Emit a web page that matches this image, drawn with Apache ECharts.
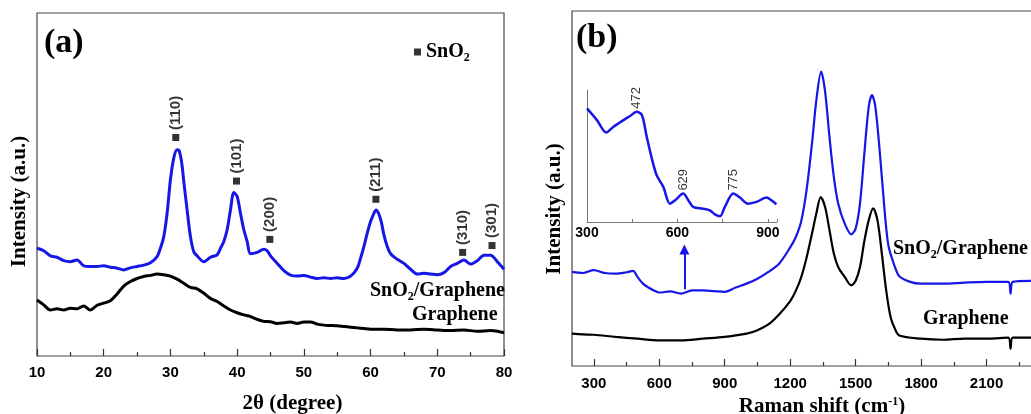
<!DOCTYPE html>
<html>
<head>
<meta charset="utf-8">
<script src="https://cdn.jsdelivr.net/npm/echarts@6/dist/echarts.min.js"></script>
<style>
  html, body { margin: 0; padding: 0; background: #fff; }
  #chart { width: 1031px; height: 414px; }
</style>
</head>
<body>
<div id="chart"></div>
<script>
// (a) XRD, 2theta (degree) vs intensity (a.u.)
const xrdSnO2Graphene = [
    [10, 31.4], [11, 30.7], [12, 29.2], [13, 28.8], [14, 27.8], [15, 27.5], [16, 28.0], [17, 26.3],
    [18, 26.1], [19, 26.1], [20, 26.3], [21, 25.9], [22, 25.6], [23, 25.1], [24, 25.7], [25, 26.1],
    [26, 26.5], [27, 27.2], [28, 29.0], [28.5, 31.4], [29, 34.8], [29.5, 41.6], [30, 51.4], [30.5, 57.7],
    [31, 60.1], [31.3, 59.9], [31.7, 56.2], [32, 50.9], [32.5, 42.6], [33, 34.8], [33.5, 30.4], [34, 29.2],
    [35, 27.5], [36, 28.8], [37, 29.5], [37.5, 31.4], [38, 33.4], [38.5, 36.8], [39, 42.6], [39.5, 47.7],
    [40, 46.5], [40.5, 41.6], [41, 36.8], [41.5, 33.4], [42, 29.8], [43, 30.2], [44, 31.1], [44.5, 30.7],
    [45, 29.2], [46, 27.0], [47, 24.9], [48, 23.6], [49, 23.3], [50, 23.5], [51, 23.0], [52, 22.6],
    [53, 22.8], [54, 22.6], [55, 22.8], [56, 22.6], [57, 23.3], [58, 25.6], [58.5, 28.5], [59, 31.9],
    [59.5, 35.8], [60, 39.2], [60.5, 41.6], [60.8, 42.6], [61.2, 41.6], [61.6, 39.2], [62, 35.3], [62.5, 31.9],
    [63, 29.8], [64, 28.2], [65, 27.0], [66, 25.3], [67, 23.9], [68, 24.1], [69, 23.9], [70, 23.7],
    [71, 24.3], [72, 26.1], [73, 27.0], [74, 28.0], [75, 26.8], [76, 27.8], [77, 29.4], [78, 29.4],
    [79, 27.5], [80, 25.3]
];
const xrdGraphene = [
    [10, 16.3], [11, 14.9], [12, 13.4], [13, 13.8], [14, 13.4], [15, 13.9], [16, 13.8], [17, 14.6],
    [18, 13.4], [19, 14.8], [20, 15.4], [21, 16.1], [22, 18.1], [23, 20.4], [24, 21.7], [25, 22.6],
    [26, 23.2], [27, 23.5], [28, 23.9], [29, 23.7], [30, 23.3], [31, 22.4], [32, 21.2], [33, 20.0],
    [34, 19.6], [35, 18.3], [36, 16.8], [37, 15.9], [38, 14.6], [39, 13.4], [40, 12.6], [41, 12.0],
    [42, 11.5], [43, 10.7], [44, 10.1], [45, 10.0], [46, 9.5], [47, 9.7], [48, 9.9], [49, 9.5],
    [50, 9.9], [51, 9.9], [52, 9.3], [53, 9.0], [54, 8.9], [55, 8.8], [56, 8.6], [57, 8.4],
    [58, 8.2], [59, 8.0], [60, 7.8], [62, 7.8], [64, 7.6], [66, 7.6], [68, 7.8], [70, 7.6],
    [72, 7.4], [74, 7.6], [76, 7.2], [78, 7.4], [80, 6.8]
];
// SnO2 reflections: marker position and (hkl)
const peakAngle = [30.8, 39.9, 44.9, 60.8, 73.8, 78.2];
const peakMarkY = [63.7, 51.0, 34.0, 45.7, 30.2, 32.2];
const peakHkl = ['(110)', '(101)', '(200)', '(211)', '(310)', '(301)'];

// (b) Raman, shift (cm-1) vs intensity (a.u.)
const ramanSnO2Graphene = [
    [200, 26.5], [250, 26.2], [300, 27.0], [350, 26.2], [400, 26.0], [450, 26.4], [480, 26.8], [500, 25.1],
    [525, 23.2], [550, 22.1], [575, 21.3], [600, 20.7], [650, 21.0], [700, 20.4], [750, 21.3], [800, 21.3],
    [850, 21.1], [900, 20.9], [950, 22.1], [1000, 23.2], [1050, 24.6], [1100, 26.5], [1150, 28.9], [1200, 33.4],
    [1225, 36.2], [1250, 40.6], [1275, 49.5], [1300, 62.7], [1320, 74.9], [1342, 82.9], [1360, 77.3], [1380, 64.6],
    [1400, 53.3], [1420, 45.8], [1450, 40.1], [1480, 37.1], [1500, 38.7], [1520, 45.8], [1540, 59.9], [1560, 73.0],
    [1575, 76.3], [1590, 73.2], [1610, 60.8], [1630, 45.8], [1650, 34.0], [1680, 27.9], [1700, 25.3], [1750, 23.7],
    [1800, 23.2], [1900, 23.2], [2000, 23.5], [2100, 23.7], [2200, 23.7], [2210, 20.4], [2220, 23.7], [2300, 24.0],
    [2400, 24.0]
];
const ramanGraphene = [
    [200, 9.1], [250, 8.9], [300, 8.8], [400, 8.2], [500, 7.7], [600, 7.2], [700, 7.2], [800, 7.7],
    [900, 8.2], [1000, 9.1], [1050, 10.1], [1100, 11.7], [1150, 14.6], [1200, 18.3], [1225, 21.1], [1250, 24.9],
    [1275, 30.5], [1300, 37.3], [1320, 43.0], [1340, 47.6], [1360, 44.8], [1380, 38.3], [1400, 31.7], [1420, 27.9],
    [1450, 25.1], [1480, 22.7], [1500, 24.0], [1520, 27.9], [1540, 35.2], [1560, 41.1], [1580, 44.4], [1600, 41.1],
    [1620, 31.7], [1640, 21.3], [1660, 13.8], [1680, 10.5], [1700, 8.6], [1800, 7.7], [1900, 7.4], [2000, 7.7],
    [2100, 7.7], [2200, 8.0], [2210, 4.9], [2220, 8.0], [2300, 8.0], [2400, 8.0]
];
const ramanTicks = [300, 600, 900, 1200, 1500, 1800, 2100, 2400];
const ramanMinorTicks = [450, 750, 1050, 1350, 1650, 1950, 2250];

// inset: SnO2/Graphene 300-930 cm-1
const insetSnO2Graphene = [
    [300, 86.1], [333, 77.2], [364, 67.8], [388, 72.2], [421, 77.2], [443, 80.3], [465, 83.5], [482, 81.0],
    [498, 64.6], [515, 48.1], [531, 35.4], [553, 26.6], [575, 13.9], [592, 16.5], [619, 21.5], [636, 16.5],
    [652, 11.4], [685, 10.1], [707, 8.9], [724, 5.8], [741, 4.3], [757, 11.4], [785, 21.5], [807, 18.5],
    [834, 13.9], [862, 15.2], [895, 18.5], [911, 16.5], [928, 13.4]
];
const insetPeakShift = [465, 619, 785];
const insetPeakY = [83.5, 21.5, 21.5];
const insetPeakText = ['472', '629', '775'];
// arrow from the main curve up to the inset
const arrowShift = 715;
const arrowFromTo = [21.6, 32.8];

const BLUE = '#1616e6';
const SERIF = '"Liberation Serif", "DejaVu Serif", serif';
const SANS = '"Liberation Sans", Arial, sans-serif';

function richColor(color) {
    return {
        n: { fontFamily: SERIF, fontWeight: 'bold', fontSize: 20, lineHeight: 24, color: color },
        s: { fontFamily: SERIF, fontWeight: 'bold', fontSize: 12, lineHeight: 12, verticalAlign: 'bottom', color: color }
    };
}

function nameStyle(padding) {
    return {
        color: '#000', fontFamily: SERIF, fontWeight: 'bold', fontSize: 21, padding: padding,
        rich: {
            sup: { fontFamily: SERIF, fontWeight: 'bold', fontSize: 12, lineHeight: 12, verticalAlign: 'top', padding: [0, 0, 4, 0] }
        }
    };
}
const tickStyle = { color: '#333', width: 1.2 };
const labelStyle = { color: '#000', fontFamily: SANS, fontWeight: 'bold', fontSize: 15 };

let myChart = echarts.init(document.getElementById('chart'), null, { renderer: 'canvas' });

let option = {
    backgroundColor: '#fff',
    animation: false,
    grid: [
        { left: 37, top: 13, width: 467, height: 343, show: true, borderColor: '#444', borderWidth: 1.2, backgroundColor: 'transparent', outerBoundsMode: 'none' },
        { left: 572, top: 11, width: 480, height: 355, show: true, borderColor: '#444', borderWidth: 1.2, backgroundColor: 'transparent', outerBoundsMode: 'none' },
        { left: 587, top: 90, width: 190, height: 132, outerBoundsMode: 'none' }
    ],
    xAxis: [
        {
            type: 'value', gridIndex: 0, min: 10, max: 80, interval: 10,
            axisLine: { show: false },
            axisTick: { show: true, inside: true, length: 7, lineStyle: tickStyle },
            minorTick: { show: true, splitNumber: 2, length: 4, lineStyle: tickStyle },
            axisLabel: Object.assign({ margin: 9 }, labelStyle),
            splitLine: { show: false },
            name: '2θ (degree)', nameLocation: 'middle', nameGap: 37,
            nameTextStyle: nameStyle([0, 0, 0, 44])
        },
        {
            type: 'value', gridIndex: 1, min: 200, max: 2400,
            axisLine: { show: false },
            axisTick: { show: true, inside: true, length: 7, lineStyle: tickStyle, customValues: ramanTicks },
            axisLabel: Object.assign({ margin: 10, customValues: ramanTicks, formatter: v => String(v) }, labelStyle),
            splitLine: { show: false },
            name: 'Raman shift (cm{sup|-1})', nameLocation: 'middle', nameGap: 27,
            nameTextStyle: nameStyle([0, 0, 0, 20])
        },
        {
            type: 'value', gridIndex: 2, min: 300, max: 930, interval: 300,
            axisLine: { show: true, lineStyle: { color: '#777', width: 1 } },
            axisTick: { show: true, inside: true, length: 3, lineStyle: { color: '#777' } },
            minorTick: { show: true, splitNumber: 2, length: 3, lineStyle: { color: '#777' } },
            axisLabel: { color: '#000', fontFamily: SANS, fontWeight: 'bold', fontSize: 14, margin: 4, showMaxLabel: false },
            splitLine: { show: false }
        },
        {
            // minor ticks of panel (b), laid over its bottom edge
            type: 'value', gridIndex: 1, min: 200, max: 2400, position: 'top', offset: -355,
            axisLine: { show: false },
            axisTick: { show: true, inside: false, length: 4, lineStyle: tickStyle, customValues: ramanMinorTicks },
            axisLabel: { show: false },
            splitLine: { show: false }
        }
    ],
    yAxis: [
        {
            type: 'value', gridIndex: 0, min: 0, max: 100,
            axisLine: { show: false }, axisTick: { show: false }, axisLabel: { show: false }, splitLine: { show: false },
            name: 'Intensity (a.u.)', nameLocation: 'middle', nameGap: 7,
            nameTextStyle: nameStyle([0, 34, 0, 0])
        },
        {
            type: 'value', gridIndex: 1, min: 0, max: 100,
            axisLine: { show: false }, axisTick: { show: false }, axisLabel: { show: false }, splitLine: { show: false },
            name: 'Intensity (a.u.)', nameLocation: 'middle', nameGap: 7,
            nameTextStyle: nameStyle([0, 41, 0, 0])
        },
        {
            type: 'value', gridIndex: 2, min: 0, max: 100,
            axisLine: { show: true, lineStyle: { color: '#777', width: 1 } },
            axisTick: { show: false }, axisLabel: { show: false }, splitLine: { show: false }
        }
    ],
    legend: {
        data: [{ name: 'SnO2', icon: 'rect' }],
        left: 409, top: 37, itemWidth: 7, itemHeight: 7,
        selectedMode: false,
        formatter: function () { return '{n|SnO}{s|2}'; },
        textStyle: { color: '#000', rich: richColor('#000') }
    },
    series: [
        {
            name: 'SnO2/Graphene XRD', type: 'line', xAxisIndex: 0, yAxisIndex: 0,
            data: xrdSnO2Graphene, showSymbol: false, smooth: 0.3,
            lineStyle: { color: BLUE, width: 3 }, z: 3
        },
        {
            name: 'Graphene XRD', type: 'line', xAxisIndex: 0, yAxisIndex: 0,
            data: xrdGraphene, showSymbol: false, smooth: 0.3,
            lineStyle: { color: '#000', width: 3 }, z: 3
        },
        {
            name: 'SnO2', type: 'scatter', xAxisIndex: 0, yAxisIndex: 0,
            symbol: 'rect', symbolSize: 7,
            itemStyle: { color: '#000' },
            data: peakAngle.map((a, i) => ({ value: [a, peakMarkY[i]], name: peakHkl[i] })),
            label: {
                show: true, position: 'top', rotate: 90, align: 'left', verticalAlign: 'middle', distance: 4,
                formatter: p => p.name,
                color: '#000', fontFamily: SANS, fontWeight: 'bold', fontSize: 15
            },
            z: 4
        },
        {
            name: 'SnO2/Graphene Raman', type: 'line', xAxisIndex: 1, yAxisIndex: 1,
            data: ramanSnO2Graphene, showSymbol: false, smooth: 0.3,
            lineStyle: { color: BLUE, width: 2.2 }, z: 3,
            markLine: {
                silent: true, symbol: ['none', 'triangle'], symbolSize: 10,
                label: { show: false },
                lineStyle: { color: BLUE, width: 2, type: 'solid' },
                data: [[{ coord: [arrowShift, arrowFromTo[0]] }, { coord: [arrowShift, arrowFromTo[1]] }]]
            }
        },
        {
            name: 'Graphene Raman', type: 'line', xAxisIndex: 1, yAxisIndex: 1,
            data: ramanGraphene, showSymbol: false, smooth: 0.3,
            lineStyle: { color: '#000', width: 2.2 }, z: 3
        },
        {
            name: 'SnO2/Graphene inset', type: 'line', xAxisIndex: 2, yAxisIndex: 2,
            data: insetSnO2Graphene, showSymbol: false, smooth: 0.3,
            lineStyle: { color: BLUE, width: 2.5 }, z: 3
        },
        {
            name: 'inset peaks', type: 'scatter', xAxisIndex: 2, yAxisIndex: 2,
            symbolSize: 0, silent: true,
            data: insetPeakShift.map((s, i) => ({ value: [s, insetPeakY[i]], name: insetPeakText[i] })),
            label: {
                show: true, position: 'top', rotate: 90, align: 'left', verticalAlign: 'middle', distance: 3,
                formatter: p => p.name,
                color: '#000', fontFamily: SANS, fontSize: 13
            },
            z: 4
        }
    ],
    graphic: [
        { type: 'text', left: 44, top: 26, style: { text: '(a)', fill: '#000', font: 'bold 34px ' + SERIF } },
        { type: 'text', left: 576, top: 21, style: { text: '(b)', fill: '#000', font: 'bold 34px ' + SERIF } },
        { type: 'text', left: 370, top: 281, style: { text: '{n|SnO}{s|2}{n|/Graphene}', rich: richColor(BLUE) } },
        { type: 'text', left: 412, top: 305, style: { text: '{n|Graphene}', rich: richColor('#000') } },
        { type: 'text', left: 893, top: 239, style: { text: '{n|SnO}{s|2}{n|/Graphene}', rich: richColor(BLUE) } },
        { type: 'text', left: 923, top: 309, style: { text: '{n|Graphene}', rich: richColor('#000') } }
    ]
};

myChart.setOption(option);
</script>
</body>
</html>
